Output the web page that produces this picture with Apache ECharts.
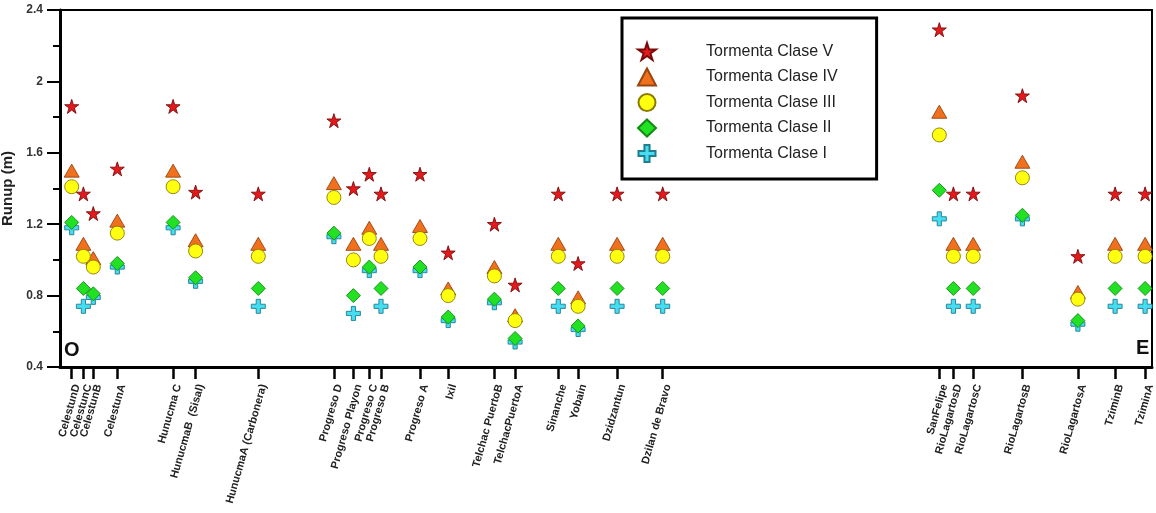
<!DOCTYPE html>
<html>
<head>
<meta charset="utf-8">
<title>Runup por tormenta</title>
<script src="https://cdn.jsdelivr.net/npm/echarts@6/dist/echarts.min.js"></script>
<style>
  html, body { margin: 0; padding: 0; background: #fff; }
  #chart { width: 1156px; height: 513px; }
</style>
</head>
<body>
<div id="chart"></div>
<script>
// Sitios de la costa, de oeste (O) a este (E)
const sites = [
  'CelestunD', 'CelestunC', 'CelestunB', 'CelestunA', 'Hunucma C',
  'HunucmaB  (Sisal)', 'HunucmaA (Carbonera)', 'Progreso D', 'Progreso Playon',
  'Progreso C', 'Progreso B', 'Progreso A', 'Ixil', 'Telchac PuertoB',
  'TelchacPuertoA', 'Sinanche', 'Yobain', 'Dzidzantun', 'Dzilan de Bravo',
  'SanFelipe', 'RioLagartosD', 'RioLagartosC', 'RioLagartosB', 'RioLagartosA',
  'TziminB', 'TziminA'
];
// Distancia a lo largo de la costa (km)
const distance = [
  3.9, 7.8, 11.1, 19.1, 37.7,
  45.2, 66.1, 91.3, 97.8,
  103.1, 107.0, 120.0, 129.4, 144.8,
  151.7, 166.1, 172.7, 185.7, 200.9,
  293.1, 297.8, 304.4, 320.8, 339.3,
  351.7, 361.7
];
// Runup (m) por clase de tormenta
const claseV = [
  1.86, 1.37, 1.26, 1.51, 1.86,
  1.38, 1.37, 1.78, 1.40,
  1.48, 1.37, 1.48, 1.04, 1.20,
  0.86, 1.37, 0.98, 1.37, 1.37,
  2.29, 1.37, 1.37, 1.92, 1.02,
  1.37, 1.37
];
const claseIV = [
  1.50, 1.09, 1.01, 1.22, 1.50,
  1.11, 1.09, 1.43, 1.09,
  1.18, 1.09, 1.19, 0.84, 0.96,
  0.69, 1.09, 0.79, 1.09, 1.09,
  1.83, 1.09, 1.09, 1.55, 0.82,
  1.09, 1.09
];
const claseIII = [
  1.41, 1.02, 0.96, 1.15, 1.41,
  1.05, 1.02, 1.35, 1.00,
  1.12, 1.02, 1.12, 0.80, 0.91,
  0.66, 1.02, 0.74, 1.02, 1.02,
  1.70, 1.02, 1.02, 1.46, 0.78,
  1.02, 1.02
];
const claseII = [
  1.21, 0.84, 0.81, 0.98, 1.21,
  0.90, 0.84, 1.15, 0.80,
  0.96, 0.84, 0.96, 0.68, 0.78,
  0.56, 0.84, 0.63, 0.84, 0.84,
  1.39, 0.84, 0.84, 1.25, 0.66,
  0.84, 0.84
];
const claseI = [
  1.18, 0.74, 0.79, 0.96, 1.18,
  0.88, 0.74, 1.13, 0.70,
  0.94, 0.74, 0.94, 0.66, 0.76,
  0.54, 0.74, 0.61, 0.74, 0.74,
  1.23, 0.74, 0.74, 1.23, 0.64,
  0.74, 0.74
];
const yTicks = { min: 0.4, max: 2.4, step: 0.4 };

const STAR = 'path://M50,0 L61.2,34.5 L97.6,34.5 L68.2,55.9 L79.4,90.5 L50,69.1 L20.6,90.5 L31.8,55.9 L2.4,34.5 L38.8,34.5 Z';
const PLUS = 'path://M35,0 L65,0 L65,35 L100,35 L100,65 L65,65 L65,100 L35,100 L35,65 L0,65 L0,35 L35,35 Z';

function pairs(values) {
  return values.map((v, i) => [distance[i], v]);
}

const classes = [
  { name: 'Tormenta Clase V',   data: claseV,   symbol: STAR,       size: 14, fill: '#e3191c', border: '#7a0a0a', z: 5 },
  { name: 'Tormenta Clase IV',  data: claseIV,  symbol: 'triangle', size: [15, 13], fill: '#f0701e', border: '#9a4410', z: 3 },
  { name: 'Tormenta Clase III', data: claseIII, symbol: 'circle',   size: 14, fill: '#ffff10', border: '#8c7a00', z: 4 },
  { name: 'Tormenta Clase II',  data: claseII,  symbol: 'diamond',  size: 14, fill: '#22e022', border: '#138a13', z: 2 },
  { name: 'Tormenta Clase I',   data: claseI,   symbol: PLUS,       size: 14, fill: '#46dcf2', border: '#1e7f8f', z: 1 }
];

const chart = echarts.init(document.getElementById('chart'), null, { renderer: 'canvas' });

const FONT = '"Liberation Sans", Arial, sans-serif';

chart.setOption({
  backgroundColor: '#fff',
  animation: false,
  grid: {
    left: 60, top: 10, right: 4, bottom: 146,
    show: true, borderColor: '#000', borderWidth: 2,
    outerBoundsMode: 'none'
  },
  legend: {
    orient: 'vertical',
    left: 622, top: 18,
    data: classes.map(c => c.name),
    itemWidth: 18, itemHeight: 17, itemGap: 6.5,
    padding: [24, 39, 16, 15],
    borderColor: '#000', borderWidth: 3,
    backgroundColor: '#fff',
    textStyle: { fontFamily: FONT, fontSize: 16, lineHeight: 18, color: '#222', padding: [0, 0, 0, 45] },
    selectedMode: false
  },
  xAxis: {
    type: 'value',
    min: 0, max: 364,
    splitLine: { show: false },
    axisLine: { lineStyle: { color: '#000', width: 3 } },
    axisTick: {
      customValues: distance,
      length: 12,
      lineStyle: { color: '#000', width: 2.5 }
    },
    axisLabel: {
      customValues: distance,
      rotate: 74,
      margin: 16,
      verticalAlign: 'top',
      fontFamily: FONT, fontSize: 11, fontWeight: 'bold', color: '#222',
      formatter: v => sites[distance.indexOf(v)] || ''
    }
  },
  yAxis: {
    type: 'value',
    min: yTicks.min, max: yTicks.max, interval: yTicks.step,
    name: 'Runup (m)',
    nameLocation: 'middle',
    nameGap: 35,
    nameTextStyle: { fontFamily: FONT, fontSize: 15, fontWeight: 'bold', color: '#222' },
    splitLine: { show: false },
    axisLine: { show: true, lineStyle: { color: '#000', width: 3 } },
    axisTick: { show: true, length: 13, lineStyle: { color: '#000', width: 2 } },
    minorTick: { show: true, splitNumber: 2, length: 7, lineStyle: { color: '#000', width: 2 } },
    axisLabel: {
      margin: 17,
      fontFamily: FONT, fontSize: 12, fontWeight: 'bold', color: '#333',
      formatter: v => String(+v.toFixed(1))
    }
  },
  graphic: [
    { type: 'text', left: 64, top: 340, style: { text: 'O', fontFamily: FONT, fontSize: 20, fontWeight: 'bold', fill: '#111' } },
    { type: 'text', left: 1136, top: 338, style: { text: 'E', fontFamily: FONT, fontSize: 20, fontWeight: 'bold', fill: '#111' } }
  ],
  series: classes.map(c => ({
    name: c.name,
    type: 'scatter',
    z: c.z,
    symbol: c.symbol,
    symbolSize: c.size,
    itemStyle: { color: c.fill, borderColor: c.border, borderWidth: 0.9, opacity: 1 },
    data: pairs(c.data)
  }))
});
</script>
</body>
</html>
